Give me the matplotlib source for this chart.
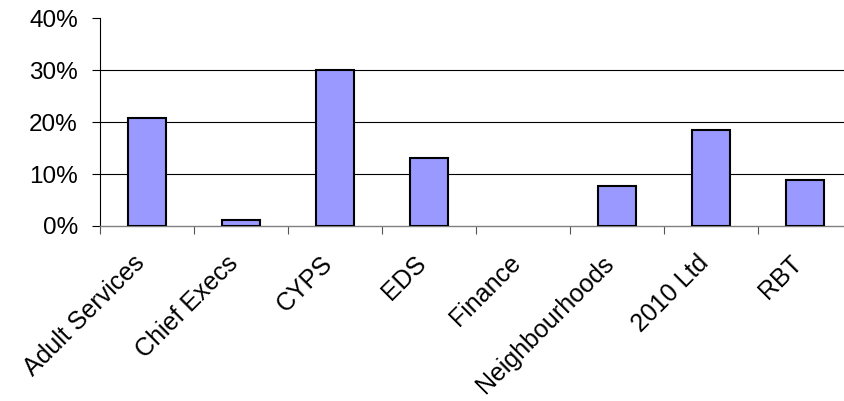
import matplotlib
matplotlib.use("Agg")
import matplotlib.pyplot as plt
from matplotlib.ticker import FuncFormatter, FixedLocator
from matplotlib.transforms import ScaledTranslation
import numpy as np

plt.rcParams['font.family'] = ['Liberation Sans', 'DejaVu Sans']

categories = ["Adult Services", "Chief Execs", "CYPS", "EDS", "Finance",
              "Neighbourhoods", "2010 Ltd", "RBT"]
values = [20.8, 1.2, 30.0, 13.0, 0.0, 7.7, 18.5, 8.9]
y_ticks = [0, 10, 20, 30, 40]

fig = plt.figure(figsize=(8.45, 4.01), dpi=100)
ax = fig.add_axes([100 / 845, 1 - 226 / 401, 752 / 845, (226 - 18.3) / 401])

x = np.arange(len(categories))
edge_widths = [1.5 if v > 0 else 0 for v in values]
ax.bar(x, values, width=0.4, color="#9999FF", edgecolor="black",
       linewidth=edge_widths, zorder=3)

ax.set_xlim(-0.5, len(categories) - 0.5)
ax.set_ylim(0, 40)

# horizontal gridlines
for v in y_ticks[1:-1]:
    ax.axhline(v, color="black", linewidth=0.8, zorder=1)

ax.set_yticks(y_ticks)
ax.yaxis.set_major_formatter(FuncFormatter(lambda v, p: f"{int(v)}%"))
ax.tick_params(axis="y", direction="out", length=6, width=0.8, labelsize=17.5, pad=10)

# category labels at centres, tick marks at boundaries
ax.set_xticks(x)
ax.set_xticklabels(categories, rotation=45, ha="right", rotation_mode="anchor", fontsize=18)
ax.tick_params(axis="x", which="major", length=0, pad=18)
shift = ScaledTranslation(-15 / 100, 0, fig.dpi_scale_trans)
for lbl in ax.get_xticklabels():
    lbl.set_transform(lbl.get_transform() + shift)
ax.xaxis.set_minor_locator(FixedLocator(np.arange(-0.5, len(categories), 1.0)))
ax.tick_params(axis="x", which="minor", direction="out", length=6, width=0.8, color="#555555")

for s in ["top", "right"]:
    ax.spines[s].set_visible(False)
ax.spines["left"].set_color("black")
ax.spines["left"].set_linewidth(0.8)
ax.spines["bottom"].set_color("#808080")
ax.spines["bottom"].set_linewidth(1.0)

fig.savefig("out.png", dpi=100)
